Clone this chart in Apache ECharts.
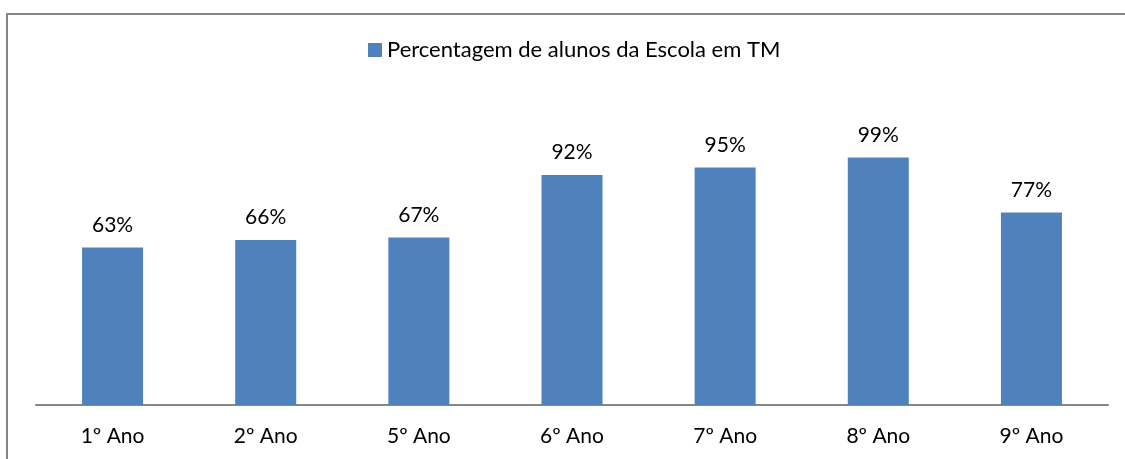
<!DOCTYPE html>
<html>
<head>
<meta charset="utf-8">
<script src="https://cdn.jsdelivr.net/npm/echarts@6/dist/echarts.min.js"></script>
<style>
  html, body { margin: 0; padding: 0; background: #fff; }
  #main { width: 1125px; height: 459px; }
  #frame { position: absolute; left: 6px; top: 13px; width: 1130px; height: 460px;
           border: 2px solid #868686; box-sizing: border-box; pointer-events: none; }
</style>
</head>
<body>
<div id="main"></div>
<div id="frame"></div>
<script>
var categories = ['1º Ano', '2º Ano', '5º Ano', '6º Ano', '7º Ano', '8º Ano', '9º Ano'];
var percentages = [63, 66, 67, 92, 95, 99, 77];
var seriesName = 'Percentagem de alunos da Escola em TM';

var fontFamily = 'Lato, "Open Sans", sans-serif';

var myChart = echarts.init(document.getElementById('main'));

var option = {
  animation: false,
  legend: {
    data: [seriesName],
    top: 39,
    left: 368,
    padding: 0,
    icon: 'rect',
    itemWidth: 14,
    itemHeight: 14,
    itemGap: 6,
    textStyle: { fontFamily: fontFamily, fontSize: 22, color: '#000' }
  },
  grid: {
    left: 36,
    right: 17,
    top: 105,
    bottom: 54
  },
  xAxis: {
    type: 'category',
    data: categories,
    axisLine: { lineStyle: { color: '#868686', width: 2 } },
    axisTick: { show: false },
    axisLabel: { fontFamily: fontFamily, fontSize: 21, color: '#000', margin: 21 }
  },
  yAxis: {
    type: 'value',
    min: 0,
    max: 120,
    show: false,
    splitLine: { show: false }
  },
  series: [{
    name: seriesName,
    type: 'bar',
    data: percentages,
    barWidth: 61,
    itemStyle: { color: '#4F81BD' },
    label: {
      show: true,
      position: 'top',
      distance: 12,
      formatter: '{c}%',
      fontFamily: fontFamily,
      fontSize: 21,
      color: '#000'
    }
  }]
};

myChart.setOption(option);
</script>
</body>
</html>
